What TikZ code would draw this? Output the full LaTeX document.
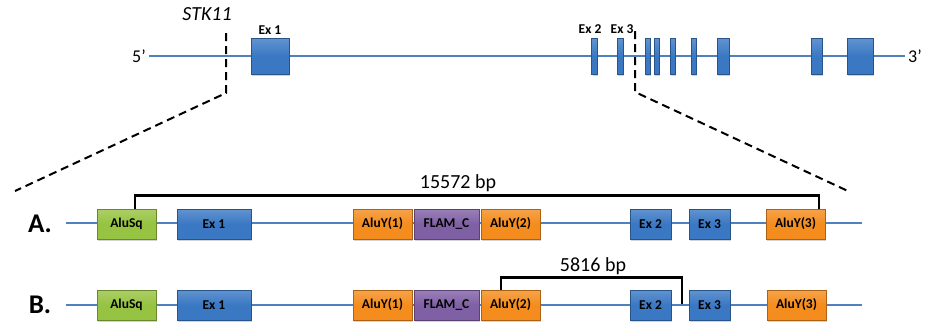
\documentclass[tikz,border=0pt]{standalone}
\usepackage{fontspec}
\setmainfont{Carlito}
\usepackage{xcolor}
\usetikzlibrary{shadows}
\usetikzlibrary{positioning}
\definecolor{lineblue}{RGB}{79,129,189}
\definecolor{exonblue}{RGB}{58,120,195}
\definecolor{alugreen}{RGB}{150,195,65}
\definecolor{aluorange}{RGB}{244,140,30}
\definecolor{flampurple}{RGB}{128,96,165}
\tikzset{
    box/.style={draw=#1!70!black, top color=#1!80!white, bottom color=#1, middle color=#1,
        line width=0.6bp, inner sep=0pt,
        minimum height=30bp, font=\fontsize{13.5bp}{15bp}\selectfont\bfseries,
        drop shadow={shadow xshift=1.2bp, shadow yshift=-1.5bp, opacity=0.35}},
    gene/.style={draw=lineblue, line width=1.3bp},
    bracket/.style={line width=2.8bp, line cap=butt},
    zoomline/.style={line width=2bp, dash pattern=on 8bp off 5bp},
    bplabel/.style={font=\fontsize{20bp}{22bp}\selectfont},
}

\begin{document}
\begin{tikzpicture}[x=1bp, y=-1bp]
    \useasboundingbox (0,0) rectangle (927,324);

    % gene overview
    \node[font=\fontsize{18bp}{20bp}\selectfont] (five) at (139,56) {5’};
    \node[font=\fontsize{18bp}{20bp}\selectfont] (three) at (915,56) {3’};
    \draw[gene] (five.east) -- (three.west);
    \node[box=exonblue, minimum width=38bp, minimum height=36bp] (ex1) at (270,56) {};
    \foreach \name/\x/\w in {ex2/594.5/5.5, ex3/620/6, ex4/647.5/5, ex5/656.5/5, ex6/672.5/5,
        ex7/693.5/5, ex8/723/12, ex9/816.5/11, ex10/860/26}
        \node[box=exonblue, minimum width=\w bp, minimum height=36bp] (\name) at (\x,56) {};
    \node[font=\fontsize{13.5bp}{15bp}\selectfont\bfseries, above=0bp of ex1] {Ex 1};
    \node[font=\fontsize{13.5bp}{15bp}\selectfont\bfseries] at (590,29) {Ex 2};
    \node[font=\fontsize{13.5bp}{15bp}\selectfont\bfseries] at (622,29) {Ex 3};
    \node[font=\fontsize{20bp}{22bp}\selectfont\itshape] (stk) at (207,14) {STK11};

    \coordinate (ltop) at (226,33);
    \coordinate (lbend) at (226,93);
    \coordinate (lend) at (15,191);
    \coordinate (rtop) at (635,31);
    \coordinate (rbend) at (635,92);
    \coordinate (rend) at (850,192);
    \draw[zoomline] (ltop) -- (lbend) -- (lend);
    \draw[zoomline] (rtop) -- (rbend) -- (rend);

    % A.
    \node[font=\fontsize{27bp}{29bp}\selectfont\bfseries] (labA) at (40,224) {A.};
    \coordinate (aL) at (66,223);
    \coordinate (aR) at (862,223);
    \draw[gene] (aL) -- (aR);
    \node[box=alugreen, minimum width=59bp] (sqA) at (126.5,224) {AluSq};
    \node[box=exonblue, minimum width=74bp] (e1A) at (214,224) {Ex 1};
    \node[box=aluorange, minimum width=59bp] (y1A) at (382.5,224) {AluY(1)};
    \node[box=flampurple, minimum width=65bp] (flA) at (446.5,224) {FLAM\_C};
    \node[box=aluorange, minimum width=59bp] (y2A) at (510.5,224) {AluY(2)};
    \node[box=exonblue, minimum width=41bp] (e2A) at (650.5,224) {Ex 2};
    \node[box=exonblue, minimum width=41bp] (e3A) at (709.5,224) {Ex 3};
    \node[box=aluorange, minimum width=59bp] (y3A) at (795.5,224) {AluY(3)};
    \draw[bracket] ([xshift=8.5bp]sqA.north) -- ++(0,-13) -| ([xshift=23.5bp]y3A.north);
    \node[bplabel] (bpA) at (458,183) {15572 bp};

    % B.
    \node[font=\fontsize{27bp}{29bp}\selectfont\bfseries] (labB) at (40,305) {B.};
    \coordinate (bL) at (66,305);
    \coordinate (bR) at (862,305);
    \draw[gene] (bL) -- (bR);
    \node[box=alugreen, minimum width=59bp] (sqB) at (126.5,305) {AluSq};
    \node[box=exonblue, minimum width=74bp] (e1B) at (214,305) {Ex 1};
    \node[box=aluorange, minimum width=59bp] (y1B) at (382.5,305) {AluY(1)};
    \node[box=flampurple, minimum width=65bp] (flB) at (446.5,305) {FLAM\_C};
    \node[box=aluorange, minimum width=59bp] (y2B) at (510.5,305) {AluY(2)};
    \node[box=exonblue, minimum width=41bp] (e2B) at (650.5,305) {Ex 2};
    \node[box=exonblue, minimum width=41bp] (e3B) at (709.5,305) {Ex 3};
    \node[box=aluorange, minimum width=59bp] (y3B) at (796.5,305) {AluY(3)};
    \coordinate (bk) at (682,304);
    \draw[bracket] ([xshift=-9.5bp]y2B.north) -- ++(0,-12) -| (bk);
    \node[bplabel] (bpB) at (593,266) {5816 bp};
\end{tikzpicture}
\end{document}
